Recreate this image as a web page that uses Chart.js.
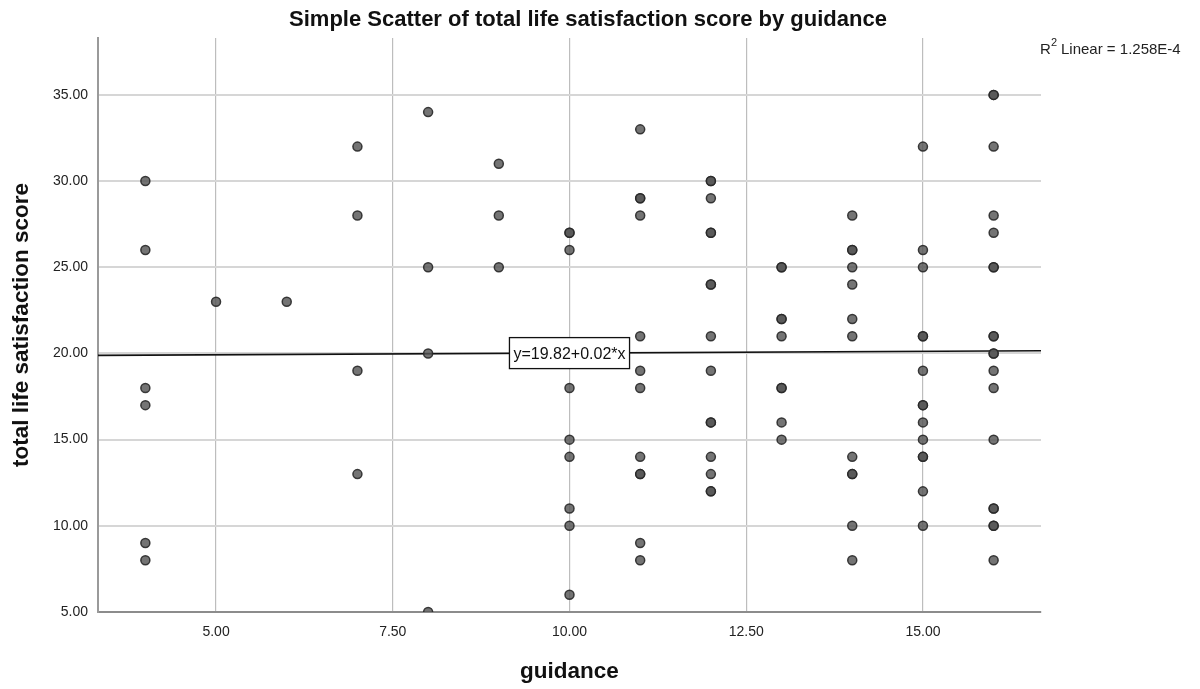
<!DOCTYPE html>
<html>
<head>
<meta charset="utf-8">
<script src="https://cdn.jsdelivr.net/npm/chart.js@4"></script>
<style>
  html, body { margin: 0; padding: 0; background: #fff; }
  #wrap { width: 1200px; height: 689px; }
</style>
</head>
<body>
<div id="wrap"><canvas id="scatter"></canvas></div>
<script>
// guidance levels and the life satisfaction scores seen at each level
const guidanceLevels = [4, 5, 6, 7, 8, 9, 10, 11, 12, 13, 14, 15, 16];
const scoresAtLevel = [
    [30, 26, 18, 17, 9, 8],
    [23],
    [23],
    [32, 28, 19, 13],
    [34, 25, 20, 5],
    [31, 28, 25],
    [27, 27, 26, 18, 15, 14, 11, 10, 6],
    [33, 29, 29, 28, 21, 19, 18, 14, 13, 13, 9, 8],
    [30, 30, 29, 27, 27, 24, 24, 21, 19, 16, 16, 14, 13, 12, 12],
    [25, 25, 22, 22, 21, 18, 18, 16, 15],
    [28, 26, 26, 25, 24, 22, 21, 14, 13, 13, 10, 8],
    [32, 26, 25, 21, 21, 19, 17, 17, 16, 15, 14, 14, 12, 10],
    [35, 35, 32, 28, 27, 25, 25, 21, 21, 20, 20, 19, 18, 15, 11, 11, 10, 10, 8]
];
const xTicks = [5, 7.5, 10, 12.5, 15];
const yTicks = [5, 10, 15, 20, 25, 30, 35];
const xRange = [3.33, 16.67];
const yRange = [5, 38.3];
const intercept = 19.82;
const slope = 0.02;
const eqLabel = 'y=19.82+0.02*x';
const r2Label = 'Linear = 1.258E-4';

const FONT = '"Liberation Sans", Arial, sans-serif';

let points = [];
guidanceLevels.forEach((g, i) => {
    scoresAtLevel[i].forEach(s => points.push({x: g, y: s}));
});
const fitLine = xRange.map(x => ({x: x, y: intercept + slope * x}));

// equation box on the fit line and the R2 note top right
const notes = {
    id: 'notes',
    afterDatasetsDraw(chart) {
        const ctx = chart.ctx;
        const xs = chart.scales.x, ys = chart.scales.y;
        ctx.save();
        const cx = xs.getPixelForValue(10);
        const cy = ys.getPixelForValue(intercept + slope * 10);
        ctx.font = '16px ' + FONT;
        const w = ctx.measureText(eqLabel).width + 8;
        const h = 31;
        ctx.fillStyle = '#fff';
        ctx.fillRect(cx - w / 2, cy - h / 2, w, h);
        ctx.strokeStyle = '#111';
        ctx.lineWidth = 1.3;
        ctx.strokeRect(cx - w / 2, cy - h / 2, w, h);
        ctx.fillStyle = '#111';
        ctx.textAlign = 'center';
        ctx.textBaseline = 'middle';
        ctx.fillText(eqLabel, cx, cy + 1);

        ctx.textAlign = 'left';
        ctx.textBaseline = 'alphabetic';
        ctx.font = '15px ' + FONT;
        ctx.fillStyle = '#222';
        ctx.fillText('R', 1040, 54);
        ctx.font = '11px ' + FONT;
        ctx.fillText('2', 1051, 46);
        ctx.font = '15px ' + FONT;
        ctx.fillText(r2Label, 1061, 54);
        ctx.restore();
    }
};

const config = {
    type: 'scatter',
    data: {
        datasets: [{
            label: 'scores',
            data: points,
            pointRadius: 4.5,
            pointHoverRadius: 4.5,
            pointBackgroundColor: 'rgba(85, 85, 85, 0.82)',
            pointBorderColor: 'rgba(40, 40, 40, 0.9)',
            pointBorderWidth: 1.5,
            clip: 0
        }, {
            label: 'fit',
            data: fitLine,
            showLine: true,
            pointRadius: 0,
            borderColor: '#111',
            borderWidth: 1.6,
            clip: 0
        }]
    },
    options: {
        responsive: true,
        maintainAspectRatio: false,
        animation: false,
        layout: { padding: { left: 0, right: 24, top: 0, bottom: 0 } },
        plugins: {
            legend: { display: false },
            tooltip: { enabled: false },
            title: {
                display: true,
                text: 'Simple Scatter of total life satisfaction score by guidance',
                color: '#111',
                font: { family: FONT, size: 22, weight: 'bold' },
                padding: { top: 7, bottom: 4.6 }
            }
        },
        scales: {
            x: {
                type: 'linear',
                min: xRange[0],
                max: xRange[1],
                afterBuildTicks: s => { s.ticks = xTicks.map(v => ({value: v})); },
                afterFit: s => { s.height = 77; },
                ticks: {
                    color: '#222',
                    padding: 12,
                    maxRotation: 0,
                    font: { family: FONT, size: 14 },
                    callback: v => v.toFixed(2)
                },
                grid: { color: '#bdbdbd', lineWidth: 1.2, drawTicks: false },
                border: { color: '#8c8c8c', width: 2 },
                title: {
                    display: true,
                    text: 'guidance',
                    color: '#111',
                    font: { family: FONT, size: 22.5, weight: 'bold' },
                    padding: { top: 0, bottom: 3.5 }
                }
            },
            y: {
                type: 'linear',
                min: yRange[0],
                max: yRange[1],
                afterBuildTicks: s => { s.ticks = yTicks.map(v => ({value: v})); },
                afterFit: s => { s.width = 98; },
                ticks: {
                    color: '#222',
                    padding: 10,
                    font: { family: FONT, size: 14 },
                    callback: v => v.toFixed(2)
                },
                grid: { color: '#d6d6d6', lineWidth: 2, drawTicks: false },
                border: { color: '#9a9a9a', width: 2 },
                title: {
                    display: true,
                    text: 'total life satisfaction score',
                    color: '#111',
                    font: { family: FONT, size: 22.5, weight: 'bold' },
                    padding: { top: 8.5, bottom: 0 }
                }
            },
            // empty right column that keeps the plot clear of the R2 note
            yRight: {
                type: 'linear',
                position: 'right',
                afterFit: s => { s.width = 135; },
                ticks: { display: false },
                grid: { display: false, drawTicks: false },
                border: { display: false }
            }
        }
    },
    plugins: [notes]
};

let myChart = new Chart(document.getElementById('scatter'), config);
</script>
</body>
</html>
